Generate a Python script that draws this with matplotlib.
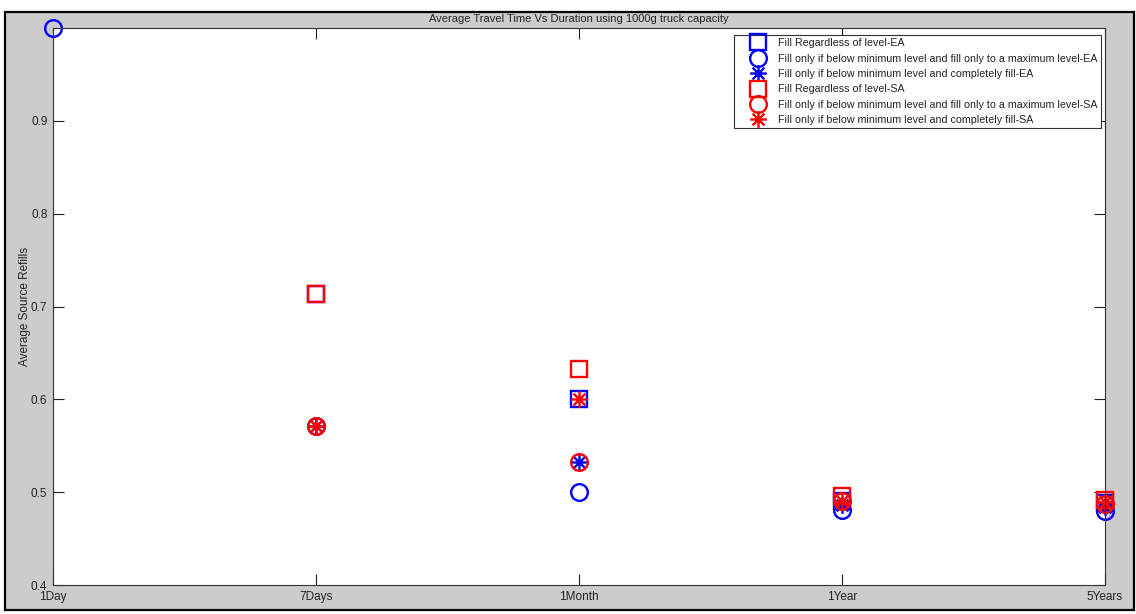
import numpy as np
import matplotlib
matplotlib.use("Agg")
import matplotlib.pyplot as plt
from matplotlib.path import Path
from matplotlib.patches import Rectangle

plt.rcParams['font.family'] = ['Liberation Sans', 'DejaVu Sans']

durations = ["1Day", "7Days", "1Month", "1Year", "5Years"]

# EA strategies
ea_fill_regardless = [np.nan, 0.714, 0.600, 0.490, 0.488]
ea_fill_to_max = [1.000, 0.571, 0.500, 0.481, 0.480]
ea_fill_complete = [np.nan, 0.571, 0.533, 0.486, 0.484]

# SA strategies
sa_fill_regardless = [np.nan, 0.714, 0.633, 0.496, 0.492]
sa_fill_to_max = [np.nan, 0.571, 0.533, 0.490, 0.487]
sa_fill_complete = [np.nan, 0.571, 0.600, 0.490, 0.489]

labels = [
    "Fill Regardless of level-EA",
    "Fill only if below minimum level and fill only to a maximum level-EA",
    "Fill only if below minimum level and completely fill-EA",
    "Fill Regardless of level-SA",
    "Fill only if below minimum level and fill only to a maximum level-SA",
    "Fill only if below minimum level and completely fill-SA",
]

# eight-spoke asterisk marker
angles = np.deg2rad([0, 45, 90, 135])
verts, codes = [], []
for a in angles:
    verts += [(np.cos(a), np.sin(a)), (-np.cos(a), -np.sin(a))]
    codes += [Path.MOVETO, Path.LINETO]
asterisk = Path(verts, codes)

W, H = 1136, 614
fig = plt.figure(figsize=(W / 100, H / 100), dpi=100, facecolor='white')
fig.patches.append(Rectangle((5 / W, 1 - 610 / H), (1134 - 5) / W, (610 - 12) / H,
                             transform=fig.transFigure, facecolor='#cccccc',
                             edgecolor='black', linewidth=1.6, zorder=-10))

ax = fig.add_axes([53 / W, 1 - 585 / H, (1105 - 53) / W, (585 - 28) / H])
ax.set_zorder(1)
ax.set_facecolor('white')

x = np.arange(1, len(durations) + 1)
series = [
    (ea_fill_regardless, 's', 'blue', 12),
    (ea_fill_to_max, 'o', 'blue', 12),
    (ea_fill_complete, asterisk, 'blue', 12),
    (sa_fill_regardless, 's', 'red', 12),
    (sa_fill_to_max, 'o', 'red', 12),
    (sa_fill_complete, asterisk, 'red', 12),
]
for (vals, mk, col, ms), lab in zip(series, labels):
    ax.plot(x, vals, linestyle='none', marker=mk, markersize=ms,
            markerfacecolor='none', markeredgecolor=col, markeredgewidth=1.7,
            label=lab, clip_on=False)

ax.set_xlim(1, 5)
ax.set_ylim(0.4, 1.0)
ax.set_xticks(x)
ax.set_xticklabels(durations)
ax.set_yticks([0.4, 0.5, 0.6, 0.7, 0.8, 0.9])
ax.set_yticklabels(["0.4", "0.5", "0.6", "0.7", "0.8", "0.9"])
ax.tick_params(direction='in', length=8, width=0.8, top=True, right=True,
               labelsize=8.5, colors='#222222', pad=4)
for s in ax.spines.values():
    s.set_linewidth(0.8)
    s.set_color('#333333')

ax.set_ylabel("Average Source Refills", fontsize=8.5, color='#222222')
ax.yaxis.set_label_coords((31 - 53) / (1105 - 53), 0.5)
ax.set_title("Average Travel Time Vs Duration using 1000g truck capacity",
             fontsize=8, color='#222222', pad=4)

leg = ax.legend(loc='upper right', bbox_to_anchor=(1 - 4 / (1105 - 53), 1 - 7 / (585 - 28)),
                prop={'size': 7.7}, frameon=True, fancybox=False, framealpha=1,
                edgecolor='#333333', borderpad=0.3, labelspacing=0.5,
                handletextpad=0.0, handlelength=3.8, borderaxespad=0)
leg.get_frame().set_linewidth(0.8)
for t in leg.get_texts():
    t.set_color('#222222')

fig.savefig("out.png", dpi=100, facecolor=fig.get_facecolor())
